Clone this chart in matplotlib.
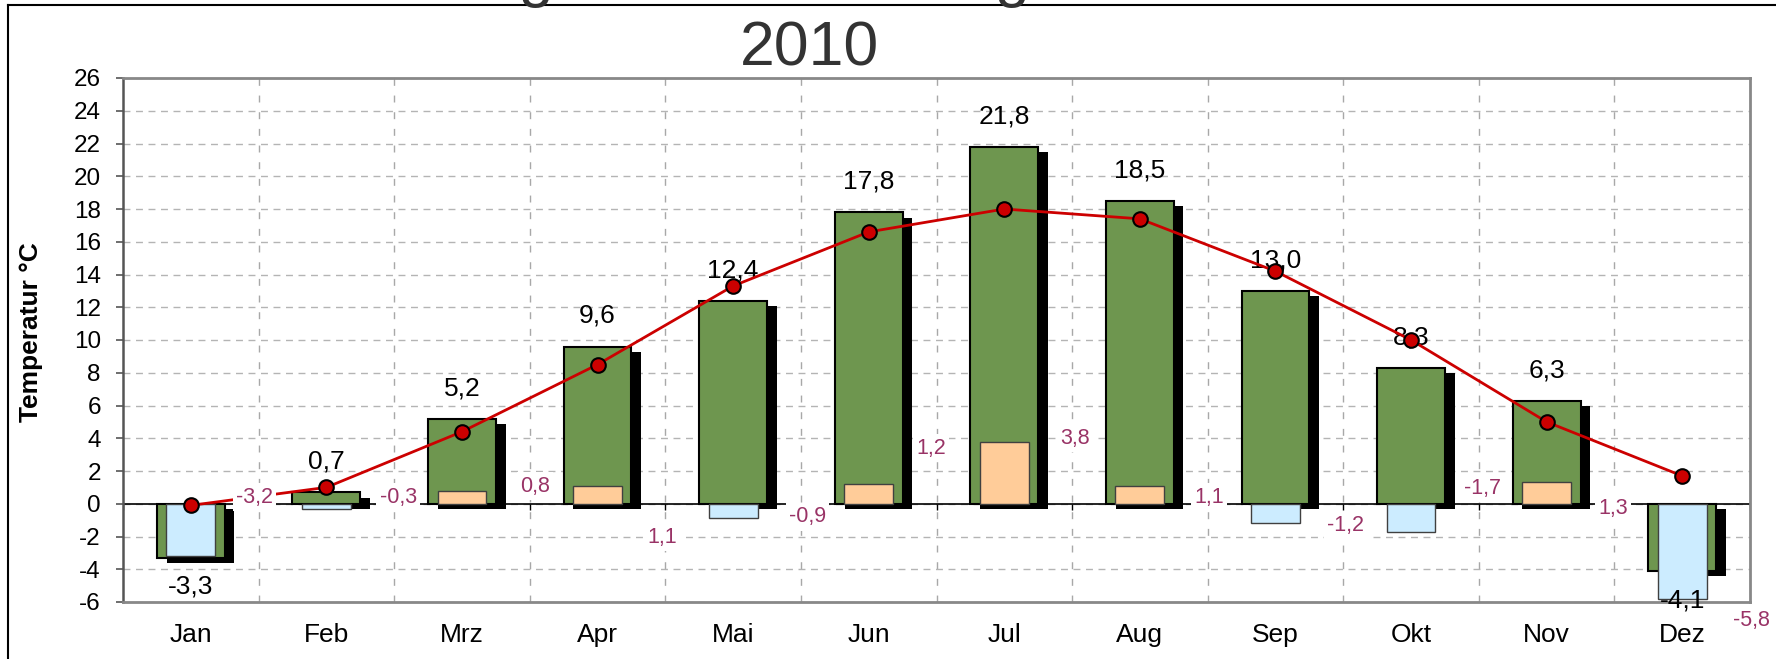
import numpy as np
import matplotlib
matplotlib.use('Agg')
import matplotlib.pyplot as plt
import matplotlib.patheffects as pe
from matplotlib.lines import Line2D

plt.rcParams['font.family'] = ['Liberation Sans', 'DejaVu Sans']
plt.rcParams['axes.unicode_minus'] = False

# monthly values 2010
months = ['Jan', 'Feb', 'Mrz', 'Apr', 'Mai', 'Jun', 'Jul', 'Aug', 'Sep', 'Okt', 'Nov', 'Dez']
temp_2010 = [-3.3, 0.7, 5.2, 9.6, 12.4, 17.8, 21.8, 18.5, 13.0, 8.3, 6.3, -4.1]
temp_mean = [-0.1, 1.0, 4.4, 8.5, 13.3, 16.6, 18.0, 17.4, 14.2, 10.0, 5.0, 1.7]
deviation = [-3.2, -0.3, 0.8, 1.1, -0.9, 1.2, 3.8, 1.1, -1.2, -1.7, 1.3, -5.8]

# hand placed deviation labels (offset from category, y in data units)
dev_label_dx = [0.47, 0.53, 0.54, 0.48, 0.55, 0.46, 0.52, 0.51, 0.52, 0.53, 0.49, 0.51]
dev_label_y = [0.4, 0.4, 1.07, -2.05, -0.8, 3.4, 4.0, 0.4, -1.3, 0.95, -0.3, -7.1]


def fmt(v):
    return ('%.1f' % v).replace('.', ',')


fig = plt.figure(figsize=(17.76, 6.59), dpi=100, facecolor='white')
ax = fig.add_axes([123 / 1776., 1 - 602 / 659., 1627 / 1776., 524 / 659.])

x = np.arange(len(months))

# green bars with drop shadow
ax.bar(x, temp_2010, width=0.5, color='#6E964F', edgecolor='black', linewidth=1.5, zorder=3,
       path_effects=[pe.SimplePatchShadow(offset=(7, -4), shadow_rgbFace='black', alpha=1.0), pe.Normal()])

# deviation bars
dev_colors = ['#FFCC99' if d > 0 else '#CCECFF' for d in deviation]
ax.bar(x, deviation, width=0.36, color=dev_colors, edgecolor='#404040', linewidth=1.0, zorder=4)

# value labels
for i, v in enumerate(temp_2010):
    off = 22 if v >= 0 else -21
    ax.annotate(fmt(v), (i, v), xytext=(0, off), textcoords='offset points',
                ha='center', va='center', fontsize=19, color='black', zorder=5)

# long-term mean
ax.plot(x, temp_mean, color='#CC0000', linewidth=2.0, marker='o', markersize=10.5,
        markerfacecolor='#CC0000', markeredgecolor='black', markeredgewidth=1.5, zorder=6)

# deviation labels
for i, d in enumerate(deviation):
    ax.text(i + dev_label_dx[i], dev_label_y[i], fmt(d), ha='center', va='center',
            fontsize=15.5, color='#993366', zorder=7, clip_on=False,
            bbox=dict(boxstyle='square,pad=0.15', facecolor='white', edgecolor='none'))

# zero line with small ticks
ax.axhline(0, color='black', linewidth=1.2, zorder=2)
ax.vlines(np.arange(-0.5, 12, 1), -0.4, 0, color='black', linewidth=1.0, zorder=2)

ax.set_xlim(-0.5, 11.5)
ax.set_ylim(-6, 26)
ax.set_yticks(np.arange(-6, 27, 2))
ax.set_xticks(x)
ax.set_xticklabels(months)
ax.set_xticks(np.arange(0.5, 11, 1), minor=True)
ax.tick_params(axis='x', which='both', length=0, pad=15, labelsize=19)
ax.tick_params(axis='y', length=5, width=1.2, color='#555555', pad=11, labelsize=17.5)

ax.set_axisbelow(True)
ax.grid(True, axis='y', which='major', linestyle=(0, (5, 4)), color='#B4B4B4', linewidth=1.0)
ax.grid(True, axis='x', which='minor', linestyle=(0, (5, 7)), color='#A8A8A8', linewidth=1.0)

for side in ['top', 'right', 'bottom']:
    ax.spines[side].set_color('#888888')
    ax.spines[side].set_linewidth(2.0)
ax.spines['left'].set_color('#555555')
ax.spines['left'].set_linewidth(1.8)

fig.text(31 / 1776., 1 - 332 / 659., 'Temperatur °C', rotation=90, ha='center', va='center',
         fontsize=19, fontweight='bold')

# two line title, first line cut off by the image edge
fig.text(809 / 1776., 1 + 5 / 659., 'Witterung und Abweichung vom Mittel', ha='center', va='baseline',
         fontsize=45, color='#333333')
fig.text(809 / 1776., 1 - 65 / 659., '2010', ha='center', va='baseline', fontsize=45, color='#333333')

# outer chart frame (left and top edges visible)
fig.add_artist(Line2D([8 / 1776., 8 / 1776.], [0, 1 - 5 / 659.], color='black', linewidth=1.5))
fig.add_artist(Line2D([8 / 1776., 1], [1 - 5 / 659., 1 - 5 / 659.], color='black', linewidth=1.5))

fig.savefig('out.png', dpi=100, facecolor='white')
